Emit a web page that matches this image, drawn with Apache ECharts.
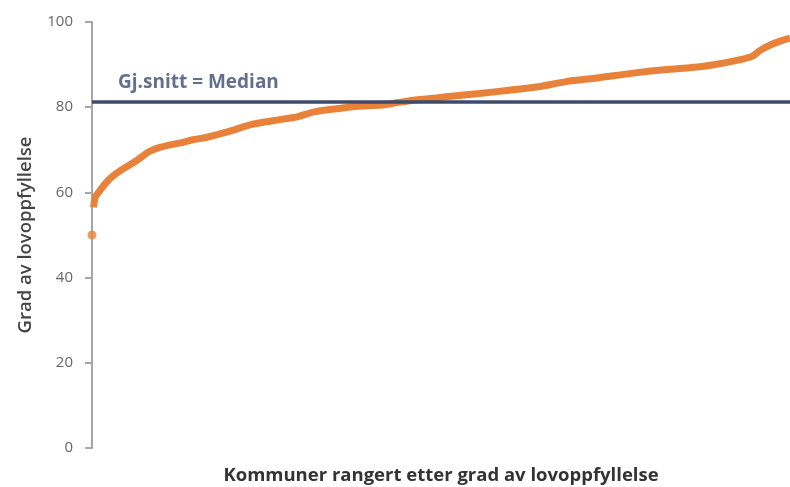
<!DOCTYPE html>
<html>
<head>
<meta charset="utf-8">
<script src="https://cdn.jsdelivr.net/npm/echarts@6/dist/echarts.min.js"></script>
<style>
  html, body { margin: 0; padding: 0; background: #fff; }
  #chart { width: 790px; height: 487px; }
</style>
</head>
<body>
<div id="chart"></div>
<script>
// kommuner sortert etter grad av lovoppfyllelse (rang, verdi)
const outlierRank = [1];
const outlierValue = [50];
const ranks = [2, 3, 5, 9, 13, 19, 26, 32, 36, 42, 48, 56, 62, 72, 81, 89, 97, 105, 118, 127,
  137, 152, 164, 178, 188, 199, 210, 219, 238, 256, 274, 291, 311, 332, 351, 373, 385, 397,
  405, 410, 416, 422, 428];
const values = [56.5, 58.9, 60, 62, 63.6, 65.3, 66.9, 68.5, 69.6, 70.5, 71.1, 71.7, 72.3, 73.0,
  73.9, 74.8, 75.8, 76.4, 77.2, 77.8, 78.9, 79.7, 80.2, 80.5, 81.1, 81.7, 82.1, 82.5, 83.2,
  84.0, 84.8, 86.0, 86.9, 88.0, 88.8, 89.5, 90.2, 91.1, 92.0, 93.4, 94.6, 95.5, 96.2];
const median = 81.3;
const yTicks = [0, 20, 40, 60, 80, 100];

let myChart = echarts.init(document.getElementById('chart'));
myChart.setOption({
  animation: false,
  textStyle: { fontFamily: 'Open Sans' },
  grid: {
    left: 92,
    right: 0,
    top: 22,
    bottom: 39,
    outerBoundsMode: 'none'
  },
  xAxis: {
    type: 'value',
    min: 1,
    max: 428,
    name: 'Kommuner rangert etter grad av lovoppfyllelse',
    nameLocation: 'middle',
    nameGap: 18,
    nameTextStyle: { fontSize: 18.5, fontWeight: 'bold', color: '#333' },
    axisLine: { show: false },
    axisTick: { show: false },
    axisLabel: { show: false },
    splitLine: { show: false }
  },
  yAxis: {
    type: 'value',
    min: yTicks[0],
    max: yTicks[yTicks.length - 1],
    interval: 20,
    name: 'Grad av lovoppfyllelse',
    nameLocation: 'middle',
    nameGap: 57,
    nameTextStyle: { fontSize: 18.5, fontWeight: 600, color: '#444' },
    axisLine: { show: true, lineStyle: { color: '#a6a6a6', width: 2 } },
    axisTick: { show: true, length: 7, lineStyle: { color: '#a6a6a6', width: 2 } },
    axisLabel: { color: '#666', fontSize: 15, margin: 19 },
    splitLine: { show: false }
  },
  series: [{
    type: 'line',
    data: ranks.map((r, i) => [r, values[i]]),
    showSymbol: false,
    smooth: 0.3,
    lineStyle: { color: '#e8823a', width: 7 },
    z: 3,
    markLine: {
      silent: true,
      symbol: 'none',
      data: [{ yAxis: median }],
      lineStyle: { color: '#3e4a6a', width: 3.5, type: 'solid' },
      label: {
        show: true,
        position: 'insideStartTop',
        formatter: 'Gj.snitt = Median',
        color: '#62708c',
        fontSize: 19,
        fontWeight: 'bold',
        distance: [26, 10]
      }
    }
  }, {
    type: 'scatter',
    data: outlierRank.map((r, i) => [r, outlierValue[i]]),
    symbolSize: 9,
    itemStyle: { color: '#e8823a' },
    z: 3
  }]
});
window.addEventListener('resize', function () {
  myChart.resize();
});
</script>
</body>
</html>
